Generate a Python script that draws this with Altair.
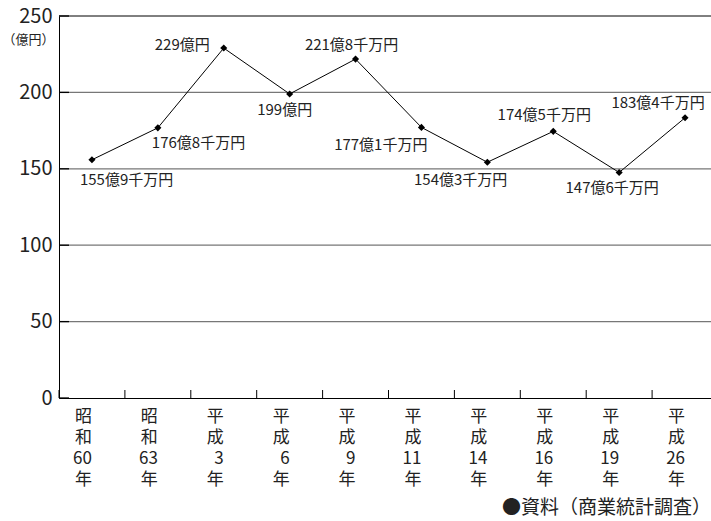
import altair as alt
import pandas as pd

# ---- data ----
categories = ["昭和60年", "昭和63年", "平成3年", "平成6年", "平成9年",
              "平成11年", "平成14年", "平成16年", "平成19年", "平成26年"]
values = [155.9, 176.8, 229.0, 199.0, 221.8, 177.1, 154.3, 174.5, 147.6, 183.4]
value_labels = ["155億9千万円", "176億8千万円", "229億円", "199億円", "221億8千万円",
                "177億1千万円", "154億3千万円", "174億5千万円", "147億6千万円", "183億4千万円"]
y_ticks = [0, 50, 100, 150, 200, 250]
y_unit = "（億円）"
source_note = "●資料（商業統計調査）"

# ---- label placement (align, dx, dy) ----
label_place = [
    ("left", -12, 20), ("left", -6, 15), ("right", -14, -3), ("center", -5, 16),
    ("center", -4, -14), ("right", 6, 18), ("right", 20, 18), ("center", -9, -16),
    ("center", -7, 16), ("center", -27, -15),
]

FONT = "Noto Sans CJK JP, sans-serif"
TXT = "#222"
W, H = 652, 382

df = pd.DataFrame({"cat": categories, "value": values, "label": value_labels})
ticks_df = pd.DataFrame({"v": y_ticks})

xscale = alt.Scale(domain=categories, range=[0, 659], paddingInner=0, paddingOuter=0)
yscale = alt.Scale(domain=[0, 250], nice=False)

x_axis = alt.Axis(
    title=None, labelAngle=0, ticks=False, domain=True, domainColor="black",
    domainWidth=1, zindex=1,
    labelExpr="[substring(datum.label,0,1), substring(datum.label,1,2), "
              "substring(datum.label,2,length(datum.label)-1), '年']",
    labelFont=FONT, labelFontSize=17, labelLineHeight=21, labelBaseline="top",
    labelPadding=10, labelColor=TXT,
)
y_axis = alt.Axis(
    values=y_ticks, grid=False, ticks=False, domainColor="black", domainWidth=1,
    zindex=1, labelFont=FONT, labelFontSize=20, labelPadding=7, labelColor=TXT,
    title=y_unit, titleAngle=0, titleX=-31, titleY=23, titleAlign="center",
    titleBaseline="middle", titleFont=FONT, titleFontSize=13,
    titleFontWeight="normal", titleColor=TXT,
)

X = alt.X("cat:N", scale=xscale, axis=x_axis)
Y = alt.Y("value:Q", scale=yscale, axis=y_axis)

base = alt.Chart(df).encode(x=X, y=Y)

grid = alt.Chart(ticks_df).transform_filter(
    (alt.datum.v > 0) & (alt.datum.v < 250)
).mark_rule(color="#777", strokeWidth=1.3).encode(
    y=alt.Y("v:Q", scale=yscale), x=alt.value(0), x2=alt.value(W)
)
top_line = alt.Chart(ticks_df).transform_filter(alt.datum.v == 250).mark_rule(
    color="black", strokeWidth=1
).encode(y=alt.Y("v:Q", scale=yscale), x=alt.value(0), x2=alt.value(W))
y_inner_ticks = alt.Chart(ticks_df).mark_rule(color="black", strokeWidth=1.3).encode(
    y=alt.Y("v:Q", scale=yscale), x=alt.value(0), x2=alt.value(10)
)
x_inner_ticks = alt.Chart(df).mark_rule(color="black", strokeWidth=1).encode(
    x=alt.X("cat:N", scale=xscale, bandPosition=0),
    y=alt.value(H - 8), y2=alt.value(H),
)

line = base.mark_line(color="black", strokeWidth=1)
pts = base.mark_point(shape="diamond", filled=True, color="black", size=50, opacity=1)

label_layers = []
for cat, (al, dx, dy) in zip(categories, label_place):
    label_layers.append(
        base.transform_filter(alt.datum.cat == cat).mark_text(
            align=al, dx=dx, dy=dy, baseline="middle", font=FONT, fontSize=15,
            color=TXT
        ).encode(text="label:N")
    )

src = alt.Chart(pd.DataFrame({"t": [source_note]})).mark_text(
    align="right", baseline="middle", font=FONT, fontSize=19, color=TXT
).encode(x=alt.value(W), y=alt.value(492), text="t:N")

chart = alt.layer(
    grid, top_line, y_inner_ticks, x_inner_ticks, line, pts, *label_layers, src
).properties(
    width=W, height=H,
    autosize=alt.AutoSizeParams(type="none"),
    padding={"left": 59, "top": 16, "right": 0, "bottom": 123},
    background="white",
).configure_view(stroke=None)

chart.save("out.html", embed_options={"renderer": "svg", "actions": False})
